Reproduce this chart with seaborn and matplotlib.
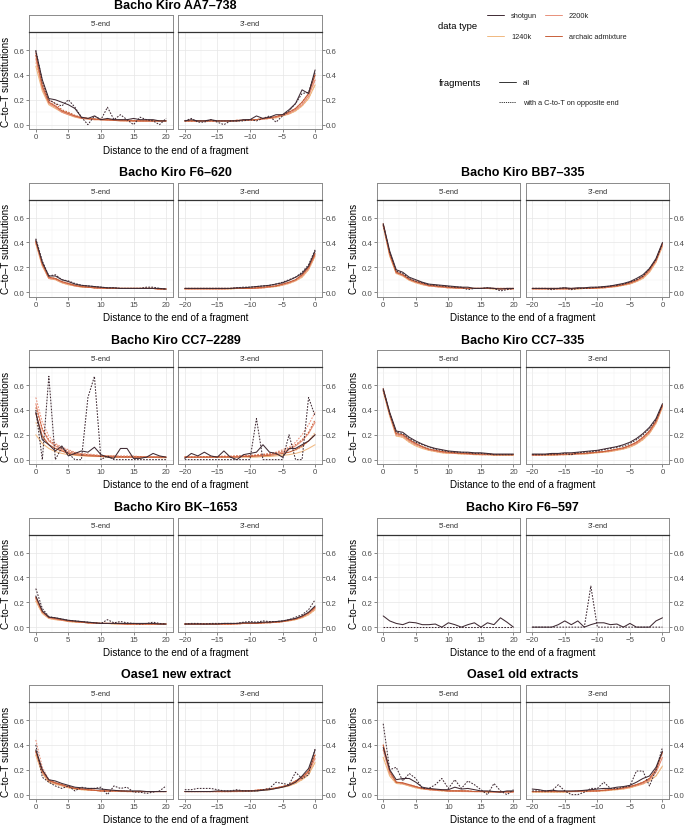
import numpy as np
import pandas as pd
import matplotlib
matplotlib.use("Agg")
import matplotlib.pyplot as plt
import seaborn as sns
from matplotlib.lines import Line2D

sns.set_theme(style="white")
plt.rcParams["font.family"] = ["Liberation Sans", "DejaVu Sans"]

# distance from the read end, position 0 is the terminal base
dist = list(range(21))

data_types = ["1240k", "2200k", "archaic admixture", "shotgun"]
palette = {"shotgun": "#3f2a33", "2200k": "#e8907a",
           "1240k": "#f0b880", "archaic admixture": "#c8603a"}

# ---- Bacho Kiro AA7-738
aa7_5p = dict(
    shotgun=[0.59, 0.36, 0.21, 0.20, 0.18, 0.16, 0.13, 0.06, 0.05, 0.07, 0.04, 0.05, 0.04, 0.04, 0.04, 0.05, 0.04, 0.04, 0.04, 0.03, 0.03],
    shotgun_opp=[0.60, 0.35, 0.20, 0.17, 0.15, 0.20, 0.14, 0.06, 0.00, 0.07, 0.04, 0.14, 0.04, 0.08, 0.04, 0.00, 0.06, 0.04, 0.03, 0.00, 0.05],
    k1240=[0.47, 0.27, 0.16, 0.13, 0.10, 0.08, 0.06, 0.05, 0.045, 0.04, 0.04, 0.035, 0.035, 0.03, 0.03, 0.03, 0.03, 0.03, 0.03, 0.03, 0.03],
    k1240_opp=[0.50, 0.29, 0.17, 0.14, 0.11, 0.085, 0.065, 0.055, 0.05, 0.045, 0.04, 0.04, 0.035, 0.035, 0.03, 0.03, 0.03, 0.03, 0.03, 0.03, 0.03],
    k2200=[0.53, 0.29, 0.17, 0.14, 0.10, 0.08, 0.065, 0.05, 0.045, 0.04, 0.04, 0.035, 0.035, 0.03, 0.03, 0.03, 0.03, 0.03, 0.03, 0.03, 0.03],
    k2200_opp=[0.56, 0.31, 0.19, 0.15, 0.11, 0.09, 0.07, 0.055, 0.05, 0.045, 0.04, 0.04, 0.035, 0.035, 0.03, 0.03, 0.03, 0.03, 0.03, 0.03, 0.03],
    archaic=[0.56, 0.31, 0.18, 0.15, 0.11, 0.09, 0.07, 0.055, 0.05, 0.045, 0.04, 0.04, 0.035, 0.035, 0.035, 0.03, 0.03, 0.03, 0.03, 0.03, 0.03],
    archaic_opp=[0.58, 0.33, 0.20, 0.17, 0.12, 0.10, 0.075, 0.06, 0.05, 0.045, 0.045, 0.04, 0.04, 0.035, 0.035, 0.035, 0.03, 0.03, 0.03, 0.03, 0.03],
)
aa7_3p = dict(
    shotgun=[0.44, 0.25, 0.28, 0.17, 0.12, 0.08, 0.08, 0.06, 0.05, 0.07, 0.04, 0.04, 0.03, 0.03, 0.03, 0.03, 0.04, 0.03, 0.03, 0.04, 0.03],
    shotgun_opp=[0.42, 0.26, 0.25, 0.17, 0.11, 0.07, 0.02, 0.07, 0.05, 0.03, 0.04, 0.03, 0.03, 0.03, 0.00, 0.02, 0.04, 0.02, 0.02, 0.05, 0.03],
    k1240=[0.32, 0.21, 0.15, 0.11, 0.085, 0.07, 0.055, 0.05, 0.045, 0.04, 0.035, 0.035, 0.03, 0.03, 0.03, 0.03, 0.03, 0.03, 0.03, 0.03, 0.03],
    k2200=[0.36, 0.23, 0.16, 0.12, 0.09, 0.075, 0.06, 0.05, 0.045, 0.04, 0.035, 0.035, 0.03, 0.03, 0.03, 0.03, 0.03, 0.03, 0.03, 0.03, 0.03],
    archaic=[0.40, 0.25, 0.18, 0.13, 0.10, 0.08, 0.065, 0.055, 0.05, 0.04, 0.04, 0.035, 0.035, 0.03, 0.03, 0.03, 0.03, 0.03, 0.03, 0.03, 0.03],
)

# ---- Bacho Kiro F6-620
f6620_5p = dict(
    shotgun=[0.42, 0.24, 0.13, 0.13, 0.10, 0.085, 0.065, 0.055, 0.05, 0.045, 0.04, 0.035, 0.035, 0.03, 0.03, 0.03, 0.03, 0.03, 0.03, 0.03, 0.025],
    shotgun_opp=[0.43, 0.25, 0.13, 0.14, 0.10, 0.09, 0.07, 0.055, 0.05, 0.045, 0.04, 0.035, 0.035, 0.03, 0.03, 0.03, 0.03, 0.04, 0.04, 0.03, 0.025],
    k1240=[0.39, 0.21, 0.11, 0.10, 0.075, 0.06, 0.05, 0.04, 0.04, 0.035, 0.03, 0.03, 0.03, 0.03, 0.03, 0.03, 0.03, 0.03, 0.03, 0.025, 0.025],
    k2200=[0.40, 0.22, 0.11, 0.105, 0.08, 0.065, 0.05, 0.045, 0.04, 0.035, 0.03, 0.03, 0.03, 0.03, 0.03, 0.03, 0.03, 0.03, 0.03, 0.025, 0.025],
    archaic=[0.41, 0.23, 0.12, 0.11, 0.085, 0.07, 0.055, 0.045, 0.04, 0.035, 0.035, 0.03, 0.03, 0.03, 0.03, 0.03, 0.03, 0.03, 0.03, 0.025, 0.025],
)
f6620_3p = dict(
    shotgun=[0.33, 0.21, 0.15, 0.12, 0.095, 0.075, 0.065, 0.055, 0.05, 0.045, 0.04, 0.035, 0.035, 0.03, 0.03, 0.03, 0.03, 0.03, 0.03, 0.03, 0.03],
    shotgun_opp=[0.34, 0.22, 0.16, 0.12, 0.10, 0.08, 0.065, 0.055, 0.05, 0.045, 0.04, 0.04, 0.035, 0.03, 0.03, 0.03, 0.03, 0.03, 0.03, 0.03, 0.03],
    k1240=[0.29, 0.18, 0.12, 0.09, 0.07, 0.055, 0.045, 0.04, 0.035, 0.03, 0.03, 0.03, 0.03, 0.025, 0.025, 0.025, 0.025, 0.025, 0.025, 0.025, 0.025],
    k2200=[0.30, 0.19, 0.13, 0.095, 0.075, 0.06, 0.05, 0.04, 0.035, 0.03, 0.03, 0.03, 0.03, 0.03, 0.025, 0.025, 0.025, 0.025, 0.025, 0.025, 0.025],
    archaic=[0.31, 0.20, 0.14, 0.10, 0.08, 0.065, 0.05, 0.045, 0.04, 0.035, 0.03, 0.03, 0.03, 0.03, 0.03, 0.03, 0.03, 0.03, 0.03, 0.03, 0.03],
)

# ---- Bacho Kiro BB7-335
bb7_5p = dict(
    shotgun=[0.55, 0.33, 0.18, 0.16, 0.12, 0.10, 0.08, 0.065, 0.06, 0.055, 0.05, 0.045, 0.04, 0.04, 0.03, 0.03, 0.035, 0.03, 0.025, 0.03, 0.03],
    shotgun_opp=[0.54, 0.32, 0.17, 0.15, 0.11, 0.09, 0.075, 0.06, 0.055, 0.05, 0.045, 0.04, 0.04, 0.02, 0.03, 0.03, 0.035, 0.03, 0.01, 0.02, 0.03],
    k1240=[0.53, 0.29, 0.15, 0.13, 0.095, 0.075, 0.06, 0.05, 0.045, 0.04, 0.035, 0.035, 0.03, 0.03, 0.03, 0.03, 0.03, 0.025, 0.025, 0.025, 0.025],
    k2200=[0.54, 0.30, 0.155, 0.135, 0.10, 0.08, 0.065, 0.05, 0.045, 0.04, 0.035, 0.035, 0.03, 0.03, 0.03, 0.03, 0.03, 0.03, 0.025, 0.025, 0.025],
    archaic=[0.55, 0.31, 0.16, 0.14, 0.105, 0.085, 0.07, 0.055, 0.05, 0.045, 0.04, 0.035, 0.035, 0.03, 0.03, 0.03, 0.03, 0.03, 0.03, 0.03, 0.03],
)
bb7_3p = dict(
    shotgun=[0.40, 0.27, 0.19, 0.14, 0.11, 0.085, 0.07, 0.06, 0.05, 0.045, 0.04, 0.04, 0.035, 0.035, 0.03, 0.035, 0.03, 0.03, 0.03, 0.03, 0.03],
    shotgun_opp=[0.39, 0.26, 0.19, 0.13, 0.10, 0.08, 0.065, 0.055, 0.05, 0.04, 0.04, 0.035, 0.03, 0.03, 0.02, 0.035, 0.03, 0.02, 0.03, 0.03, 0.03],
    k1240=[0.37, 0.24, 0.16, 0.11, 0.085, 0.065, 0.055, 0.045, 0.04, 0.035, 0.03, 0.03, 0.03, 0.025, 0.025, 0.025, 0.025, 0.025, 0.025, 0.025, 0.025],
    k2200=[0.38, 0.25, 0.17, 0.12, 0.09, 0.07, 0.06, 0.05, 0.04, 0.035, 0.035, 0.03, 0.03, 0.03, 0.025, 0.025, 0.025, 0.025, 0.025, 0.025, 0.025],
    archaic=[0.39, 0.26, 0.18, 0.125, 0.095, 0.075, 0.06, 0.05, 0.045, 0.04, 0.035, 0.03, 0.03, 0.03, 0.03, 0.03, 0.03, 0.03, 0.03, 0.03, 0.03],
)

# ---- Bacho Kiro CC7-2289
cc2289_5p = dict(
    shotgun=[0.38, 0.16, 0.12, 0.07, 0.11, 0.03, 0.05, 0.07, 0.06, 0.10, 0.04, 0.02, 0.01, 0.09, 0.09, 0.01, 0.01, 0.02, 0.05, 0.03, 0.02],
    shotgun_opp=[0.40, 0.00, 0.67, 0.00, 0.10, 0.05, 0.00, 0.00, 0.50, 0.67, 0.00, 0.03, 0.00, 0.00, 0.00, 0.00, 0.00, 0.00, 0.00, 0.00, 0.00],
    k1240=[0.20, 0.13, 0.09, 0.065, 0.05, 0.04, 0.035, 0.03, 0.03, 0.025, 0.025, 0.02, 0.02, 0.02, 0.02, 0.02, 0.02, 0.02, 0.02, 0.015, 0.015],
    k1240_opp=[0.30, 0.18, 0.12, 0.09, 0.07, 0.05, 0.045, 0.04, 0.035, 0.03, 0.03, 0.03, 0.025, 0.025, 0.025, 0.02, 0.02, 0.02, 0.02, 0.02, 0.02],
    k2200=[0.45, 0.24, 0.15, 0.11, 0.08, 0.06, 0.05, 0.04, 0.035, 0.03, 0.03, 0.025, 0.025, 0.025, 0.02, 0.02, 0.02, 0.02, 0.02, 0.02, 0.02],
    k2200_opp=[0.50, 0.30, 0.19, 0.13, 0.10, 0.08, 0.06, 0.05, 0.045, 0.04, 0.035, 0.03, 0.03, 0.03, 0.03, 0.03, 0.025, 0.025, 0.025, 0.025, 0.02],
    archaic=[0.37, 0.19, 0.12, 0.09, 0.07, 0.05, 0.04, 0.035, 0.03, 0.03, 0.025, 0.025, 0.02, 0.02, 0.02, 0.02, 0.02, 0.02, 0.02, 0.02, 0.02],
    archaic_opp=[0.42, 0.25, 0.16, 0.12, 0.09, 0.07, 0.055, 0.045, 0.04, 0.035, 0.03, 0.03, 0.03, 0.025, 0.025, 0.025, 0.025, 0.02, 0.02, 0.02, 0.02],
)
cc2289_3p = dict(
    shotgun=[0.20, 0.15, 0.12, 0.09, 0.09, 0.02, 0.05, 0.06, 0.12, 0.06, 0.05, 0.04, 0.00, 0.02, 0.07, 0.02, 0.03, 0.06, 0.03, 0.05, 0.01],
    shotgun_opp=[0.35, 0.50, 0.00, 0.00, 0.20, 0.00, 0.00, 0.00, 0.00, 0.33, 0.00, 0.00, 0.00, 0.00, 0.00, 0.00, 0.00, 0.00, 0.00, 0.00, 0.00],
    k1240=[0.12, 0.09, 0.065, 0.05, 0.04, 0.035, 0.03, 0.025, 0.025, 0.02, 0.02, 0.02, 0.02, 0.02, 0.02, 0.02, 0.02, 0.02, 0.02, 0.02, 0.02],
    k1240_opp=[0.22, 0.15, 0.10, 0.075, 0.06, 0.045, 0.04, 0.035, 0.03, 0.03, 0.025, 0.025, 0.025, 0.025, 0.02, 0.02, 0.02, 0.02, 0.02, 0.02, 0.02],
    k2200=[0.30, 0.21, 0.15, 0.11, 0.08, 0.06, 0.05, 0.04, 0.035, 0.03, 0.03, 0.03, 0.025, 0.025, 0.025, 0.025, 0.02, 0.02, 0.02, 0.02, 0.02],
    k2200_opp=[0.38, 0.28, 0.20, 0.14, 0.10, 0.08, 0.06, 0.05, 0.045, 0.04, 0.035, 0.03, 0.03, 0.03, 0.03, 0.025, 0.025, 0.025, 0.025, 0.025, 0.025],
    archaic=[0.20, 0.15, 0.11, 0.08, 0.06, 0.05, 0.04, 0.035, 0.03, 0.03, 0.025, 0.025, 0.02, 0.02, 0.02, 0.02, 0.02, 0.02, 0.02, 0.02, 0.02],
    archaic_opp=[0.32, 0.22, 0.16, 0.12, 0.09, 0.07, 0.055, 0.045, 0.04, 0.035, 0.03, 0.03, 0.03, 0.025, 0.025, 0.025, 0.025, 0.025, 0.02, 0.02, 0.02],
)

# ---- Bacho Kiro CC7-335
cc335_5p = dict(
    shotgun=[0.57, 0.38, 0.23, 0.22, 0.18, 0.15, 0.125, 0.105, 0.09, 0.08, 0.07, 0.065, 0.06, 0.06, 0.055, 0.055, 0.05, 0.045, 0.045, 0.045, 0.045],
    shotgun_opp=[0.56, 0.37, 0.22, 0.21, 0.17, 0.14, 0.12, 0.10, 0.085, 0.075, 0.065, 0.06, 0.06, 0.055, 0.05, 0.05, 0.045, 0.04, 0.04, 0.04, 0.04],
    k1240=[0.55, 0.35, 0.19, 0.18, 0.14, 0.11, 0.09, 0.075, 0.065, 0.055, 0.05, 0.05, 0.045, 0.045, 0.04, 0.04, 0.04, 0.035, 0.035, 0.035, 0.035],
    k2200=[0.56, 0.36, 0.20, 0.19, 0.15, 0.12, 0.10, 0.08, 0.07, 0.06, 0.055, 0.05, 0.05, 0.045, 0.045, 0.04, 0.04, 0.04, 0.04, 0.04, 0.04],
    archaic=[0.57, 0.37, 0.21, 0.20, 0.16, 0.13, 0.105, 0.085, 0.075, 0.065, 0.06, 0.055, 0.05, 0.05, 0.045, 0.045, 0.045, 0.04, 0.04, 0.04, 0.04],
)
cc335_3p = dict(
    shotgun=[0.45, 0.33, 0.26, 0.21, 0.17, 0.14, 0.12, 0.105, 0.095, 0.085, 0.075, 0.07, 0.065, 0.06, 0.055, 0.055, 0.05, 0.05, 0.045, 0.045, 0.045],
    shotgun_opp=[0.44, 0.32, 0.25, 0.20, 0.16, 0.13, 0.11, 0.10, 0.09, 0.08, 0.07, 0.065, 0.06, 0.055, 0.04, 0.05, 0.045, 0.045, 0.04, 0.04, 0.04],
    k1240=[0.42, 0.29, 0.21, 0.16, 0.125, 0.10, 0.085, 0.075, 0.065, 0.06, 0.055, 0.05, 0.045, 0.045, 0.04, 0.04, 0.04, 0.035, 0.035, 0.035, 0.035],
    k2200=[0.43, 0.30, 0.22, 0.17, 0.13, 0.11, 0.09, 0.08, 0.07, 0.065, 0.06, 0.055, 0.05, 0.045, 0.045, 0.04, 0.04, 0.04, 0.04, 0.035, 0.035],
    archaic=[0.44, 0.31, 0.23, 0.18, 0.14, 0.115, 0.095, 0.085, 0.075, 0.065, 0.06, 0.055, 0.05, 0.05, 0.045, 0.045, 0.04, 0.04, 0.04, 0.04, 0.04],
)

# ---- Bacho Kiro BK-1653
bk1653_5p = dict(
    shotgun=[0.25, 0.13, 0.08, 0.075, 0.065, 0.055, 0.05, 0.045, 0.04, 0.035, 0.03, 0.03, 0.03, 0.03, 0.03, 0.03, 0.03, 0.03, 0.03, 0.025, 0.025],
    shotgun_opp=[0.31, 0.15, 0.085, 0.075, 0.065, 0.055, 0.05, 0.045, 0.04, 0.035, 0.03, 0.06, 0.035, 0.045, 0.035, 0.03, 0.025, 0.03, 0.04, 0.03, 0.025],
    k1240=[0.21, 0.11, 0.07, 0.06, 0.055, 0.045, 0.04, 0.04, 0.035, 0.03, 0.03, 0.03, 0.025, 0.025, 0.025, 0.025, 0.025, 0.025, 0.025, 0.025, 0.025],
    k2200=[0.23, 0.12, 0.075, 0.065, 0.055, 0.05, 0.045, 0.04, 0.035, 0.03, 0.03, 0.03, 0.03, 0.025, 0.025, 0.025, 0.025, 0.025, 0.025, 0.025, 0.025],
    archaic=[0.24, 0.125, 0.08, 0.07, 0.06, 0.05, 0.045, 0.04, 0.035, 0.035, 0.03, 0.03, 0.03, 0.03, 0.025, 0.025, 0.025, 0.025, 0.025, 0.025, 0.025],
)
bk1653_3p = dict(
    shotgun=[0.17, 0.12, 0.09, 0.07, 0.06, 0.05, 0.045, 0.04, 0.04, 0.035, 0.035, 0.035, 0.03, 0.03, 0.03, 0.025, 0.025, 0.025, 0.025, 0.025, 0.025],
    shotgun_opp=[0.22, 0.14, 0.10, 0.08, 0.06, 0.05, 0.045, 0.045, 0.05, 0.04, 0.045, 0.04, 0.03, 0.03, 0.03, 0.03, 0.03, 0.025, 0.03, 0.03, 0.025],
    k1240=[0.14, 0.10, 0.075, 0.06, 0.05, 0.045, 0.04, 0.035, 0.035, 0.03, 0.03, 0.03, 0.025, 0.025, 0.025, 0.025, 0.025, 0.025, 0.025, 0.025, 0.025],
    k2200=[0.15, 0.11, 0.08, 0.065, 0.055, 0.045, 0.04, 0.035, 0.035, 0.03, 0.03, 0.03, 0.025, 0.025, 0.025, 0.025, 0.025, 0.025, 0.025, 0.025, 0.025],
    archaic=[0.16, 0.115, 0.085, 0.065, 0.055, 0.045, 0.04, 0.04, 0.035, 0.03, 0.03, 0.03, 0.03, 0.025, 0.025, 0.025, 0.025, 0.025, 0.025, 0.025, 0.025],
)

# ---- Bacho Kiro F6-597 (shotgun only)
f6597_5p = dict(
    shotgun=[0.09, 0.05, 0.03, 0.02, 0.04, 0.035, 0.02, 0.02, 0.025, 0.0, 0.035, 0.02, 0.0, 0.02, 0.035, 0.0, 0.035, 0.02, 0.075, 0.04, 0.0],
    shotgun_opp=[0.0] * 21,
)
f6597_3p = dict(
    shotgun=[0.075, 0.05, 0.0, 0.0, 0.0, 0.03, 0.0, 0.025, 0.02, 0.035, 0.035, 0.02, 0.0, 0.05, 0.02, 0.05, 0.02, 0.0, 0.0, 0.0, 0.0],
    shotgun_opp=[0.0, 0.0, 0.0, 0.0, 0.0, 0.0, 0.0, 0.0, 0.0, 0.0, 0.0, 0.33, 0.0, 0.0, 0.0, 0.0, 0.0, 0.0, 0.0, 0.0, 0.0],
)

# ---- Oase1 new extract
oase_new_5p = dict(
    shotgun=[0.36, 0.20, 0.12, 0.11, 0.09, 0.075, 0.06, 0.055, 0.05, 0.05, 0.045, 0.04, 0.035, 0.03, 0.03, 0.03, 0.03, 0.025, 0.025, 0.025, 0.025],
    shotgun_opp=[0.40, 0.14, 0.10, 0.07, 0.05, 0.07, 0.03, 0.06, 0.05, 0.05, 0.06, 0.00, 0.07, 0.05, 0.06, 0.02, 0.02, 0.01, 0.02, 0.03, 0.07],
    k1240=[0.32, 0.17, 0.10, 0.085, 0.07, 0.055, 0.045, 0.04, 0.035, 0.035, 0.03, 0.03, 0.03, 0.025, 0.025, 0.025, 0.025, 0.025, 0.025, 0.025, 0.025],
    k2200=[0.34, 0.18, 0.11, 0.09, 0.075, 0.06, 0.05, 0.045, 0.04, 0.035, 0.03, 0.03, 0.03, 0.03, 0.025, 0.025, 0.025, 0.025, 0.025, 0.025, 0.025],
    k2200_opp=[0.44, 0.22, 0.12, 0.10, 0.08, 0.065, 0.055, 0.045, 0.04, 0.035, 0.035, 0.03, 0.03, 0.03, 0.03, 0.025, 0.025, 0.025, 0.025, 0.025, 0.025],
    archaic=[0.35, 0.19, 0.115, 0.095, 0.08, 0.065, 0.05, 0.045, 0.04, 0.035, 0.03, 0.03, 0.03, 0.03, 0.025, 0.025, 0.025, 0.025, 0.025, 0.025, 0.025],
)
oase_new_3p = dict(
    shotgun=[0.36, 0.21, 0.15, 0.10, 0.075, 0.06, 0.05, 0.04, 0.035, 0.03, 0.03, 0.03, 0.03, 0.03, 0.03, 0.03, 0.025, 0.025, 0.025, 0.025, 0.025],
    shotgun_opp=[0.37, 0.16, 0.13, 0.18, 0.08, 0.09, 0.10, 0.05, 0.04, 0.03, 0.03, 0.03, 0.04, 0.03, 0.03, 0.04, 0.05, 0.05, 0.05, 0.04, 0.04],
    k1240=[0.26, 0.16, 0.12, 0.09, 0.07, 0.06, 0.05, 0.04, 0.035, 0.03, 0.03, 0.025, 0.025, 0.025, 0.025, 0.025, 0.025, 0.025, 0.025, 0.025, 0.025],
    k2200=[0.29, 0.18, 0.13, 0.10, 0.075, 0.065, 0.05, 0.045, 0.04, 0.035, 0.03, 0.03, 0.025, 0.025, 0.025, 0.025, 0.025, 0.025, 0.025, 0.025, 0.025],
    archaic=[0.32, 0.19, 0.14, 0.11, 0.08, 0.065, 0.055, 0.045, 0.04, 0.035, 0.03, 0.03, 0.03, 0.025, 0.025, 0.025, 0.025, 0.025, 0.025, 0.025, 0.025],
)

# ---- Oase1 old extracts
oase_old_5p = dict(
    shotgun=[0.38, 0.20, 0.12, 0.13, 0.13, 0.10, 0.06, 0.05, 0.045, 0.04, 0.04, 0.06, 0.045, 0.05, 0.04, 0.03, 0.03, 0.025, 0.02, 0.03, 0.03],
    shotgun_opp=[0.57, 0.20, 0.22, 0.11, 0.17, 0.13, 0.05, 0.05, 0.08, 0.13, 0.05, 0.12, 0.05, 0.11, 0.08, 0.04, 0.00, 0.09, 0.03, 0.00, 0.04],
    k1240=[0.30, 0.15, 0.09, 0.085, 0.07, 0.055, 0.045, 0.04, 0.035, 0.03, 0.03, 0.03, 0.025, 0.025, 0.025, 0.025, 0.02, 0.02, 0.02, 0.02, 0.02],
    k2200=[0.36, 0.17, 0.10, 0.09, 0.075, 0.06, 0.05, 0.04, 0.035, 0.035, 0.03, 0.03, 0.03, 0.025, 0.025, 0.025, 0.025, 0.02, 0.02, 0.02, 0.02],
    archaic=[0.40, 0.19, 0.10, 0.095, 0.08, 0.065, 0.05, 0.045, 0.04, 0.035, 0.03, 0.03, 0.03, 0.03, 0.025, 0.025, 0.025, 0.025, 0.025, 0.025, 0.025],
)
oase_old_3p = dict(
    shotgun=[0.35, 0.22, 0.15, 0.13, 0.10, 0.075, 0.065, 0.06, 0.05, 0.05, 0.045, 0.04, 0.035, 0.03, 0.03, 0.03, 0.03, 0.035, 0.03, 0.04, 0.045],
    shotgun_opp=[0.38, 0.20, 0.07, 0.19, 0.19, 0.07, 0.06, 0.05, 0.05, 0.10, 0.05, 0.05, 0.02, 0.00, 0.00, 0.03, 0.08, 0.03, 0.03, 0.03, 0.03],
    k1240=[0.23, 0.15, 0.11, 0.085, 0.07, 0.055, 0.045, 0.04, 0.035, 0.03, 0.03, 0.025, 0.025, 0.025, 0.025, 0.02, 0.02, 0.02, 0.02, 0.02, 0.02],
    k2200=[0.30, 0.18, 0.12, 0.09, 0.075, 0.06, 0.05, 0.045, 0.04, 0.035, 0.03, 0.03, 0.03, 0.025, 0.025, 0.025, 0.025, 0.025, 0.025, 0.025, 0.025],
    archaic=[0.34, 0.20, 0.13, 0.10, 0.08, 0.065, 0.055, 0.045, 0.04, 0.035, 0.03, 0.03, 0.03, 0.03, 0.025, 0.025, 0.025, 0.025, 0.025, 0.025, 0.025],
)

# (title, 5' data, 3' data, column, row)
panels = [
    ("Bacho Kiro AA7–738", aa7_5p, aa7_3p, 0, 0),
    ("Bacho Kiro F6–620", f6620_5p, f6620_3p, 0, 1),
    ("Bacho Kiro BB7–335", bb7_5p, bb7_3p, 1, 1),
    ("Bacho Kiro CC7–2289", cc2289_5p, cc2289_3p, 0, 2),
    ("Bacho Kiro CC7–335", cc335_5p, cc335_3p, 1, 2),
    ("Bacho Kiro BK–1653", bk1653_5p, bk1653_3p, 0, 3),
    ("Bacho Kiro F6–597", f6597_5p, f6597_3p, 1, 3),
    ("Oase1 new extract", oase_new_5p, oase_new_3p, 0, 4),
    ("Oase1 old extracts", oase_old_5p, oase_old_3p, 1, 4),
]

keys = {"1240k": "k1240", "2200k": "k2200",
        "archaic admixture": "archaic", "shotgun": "shotgun"}


def long_frame(d, sign):
    rows = []
    for dtype in data_types:
        k = keys[dtype]
        if k not in d:
            continue
        for frag, vals in (("all", d[k]), ("opposite", d.get(k + "_opp", d[k]))):
            for p, v in zip(dist, vals):
                rows.append((sign * p, v, dtype, frag))
    return pd.DataFrame(rows, columns=["pos", "value", "dtype", "frag"])


W, H = 685, 829
fig = plt.figure(figsize=(W / 100, H / 100), dpi=100)


def rect(x, y, w, h):
    return [x / W, 1 - (y + h) / H, w / W, h / H]


col_x = [(29.3, 178.3), (376.7, 525.7)]
fw = 143.3
strip_h, plot_h = 17, 97
border = "#8a8a8a"
tick_c = "#4d4d4d"

lay = fig.add_axes([0, 0, 1, 1], zorder=10)
lay.set_xlim(0, W)
lay.set_ylim(H, 0)
lay.axis("off")
lay.patch.set_alpha(0)

for title, d5, d3, col, row in panels:
    top = 16 + 167.5 * row
    ptop = top + strip_h
    for j, (d, sign, lab) in enumerate(((d5, 1, "5'-end"), (d3, -1, "3'-end"))):
        x0 = col_x[col][j]
        ax = fig.add_axes(rect(x0, ptop, fw, plot_h))
        df = long_frame(d, sign)
        present = [t for t in data_types if t in df["dtype"].unique()]
        sns.lineplot(data=df, x="pos", y="value", hue="dtype", style="frag",
                     hue_order=present, style_order=["all", "opposite"],
                     palette=palette, dashes={"all": "", "opposite": (1.6, 1.3)},
                     linewidth=0.75, estimator=None, legend=False, ax=ax)
        ax.set_ylim(-0.035, 0.745)
        ax.set_yticks([0, 0.2, 0.4, 0.6])
        ax.set_yticks([0.1, 0.3, 0.5, 0.7], minor=True)
        if sign > 0:
            ax.set_xlim(-1, 21)
            ax.set_xticks([0, 5, 10, 15, 20])
            ax.set_xticks([2.5, 7.5, 12.5, 17.5], minor=True)
        else:
            ax.set_xlim(-21, 1)
            ax.set_xticks([-20, -15, -10, -5, 0])
            ax.set_xticks([-17.5, -12.5, -7.5, -2.5], minor=True)
        ax.set_yticklabels(["0.0", "0.2", "0.4", "0.6"])
        ax.grid(True, which="major", color="#e6e6e6", lw=0.5)
        ax.grid(True, which="minor", color="#f2f2f2", lw=0.35)
        ax.set_axisbelow(True)
        ax.set_xlabel("")
        ax.set_ylabel("")
        for s in ax.spines.values():
            s.set_color(border)
            s.set_linewidth(0.7)
        ax.tick_params(which="major", length=2, width=0.5, color="#555555",
                       labelsize=5.7, labelcolor=tick_c, pad=1.2)
        ax.tick_params(which="minor", length=0)
        ax.tick_params(axis="x", bottom=True)
        if sign > 0:
            ax.tick_params(axis="y", left=True, right=False, labelleft=True, labelright=False)
        else:
            ax.tick_params(axis="y", left=False, right=True, labelleft=False, labelright=True)

        st = fig.add_axes(rect(x0, top, fw, strip_h))
        st.set_xticks([])
        st.set_yticks([])
        st.set_facecolor("white")
        for s in st.spines.values():
            s.set_color(border)
            s.set_linewidth(0.7)
        st.spines["bottom"].set_color("#333333")
        st.spines["bottom"].set_linewidth(0.9)
        st.text(0.5, 0.5, lab, transform=st.transAxes, ha="center", va="center",
                fontsize=5.3, color="#333333")

    cx = (col_x[col][0] + col_x[col][1] + fw) / 2
    lay.text(cx, top - 10.5, title, ha="center", va="center", fontsize=9,
             fontweight="bold", color="black")
    lay.text(cx, ptop + plot_h + 20.5, "Distance to the end of a fragment",
             ha="center", va="center", fontsize=7.1, color="black")
    lay.text(col_x[col][0] - 23, ptop + plot_h / 2, "C–to–T substitutions",
             ha="center", va="center", rotation=90, fontsize=7.1, color="black")

# legend
lay.text(438, 26, "data type", ha="left", va="center", fontsize=6.8, color="black")
leg_items = [("shotgun", 487, 16), ("2200k", 545, 16),
             ("1240k", 487, 37), ("archaic admixture", 545, 37)]
for name, lx, ly in leg_items:
    lay.add_line(Line2D([lx, lx + 17], [ly, ly], color=palette[name], lw=0.7))
    lay.text(lx + 24, ly, name, ha="left", va="center", fontsize=5.3, color="#222222")

lay.text(439, 83, "fragments", ha="left", va="center", fontsize=6.8, color="black")
lay.add_line(Line2D([499, 516], [83, 83], color="#333333", lw=0.7))
lay.text(523, 83, "all", ha="left", va="center", fontsize=5.3, color="#222222")
lay.add_line(Line2D([499, 516], [103, 103], color="#333333", lw=0.7,
                    dashes=(1.2, 1.0)))
lay.text(523, 103, "with a C-to-T on opposite end", ha="left", va="center",
         fontsize=5.3, color="#222222")

plt.savefig("out.png", dpi=100)
